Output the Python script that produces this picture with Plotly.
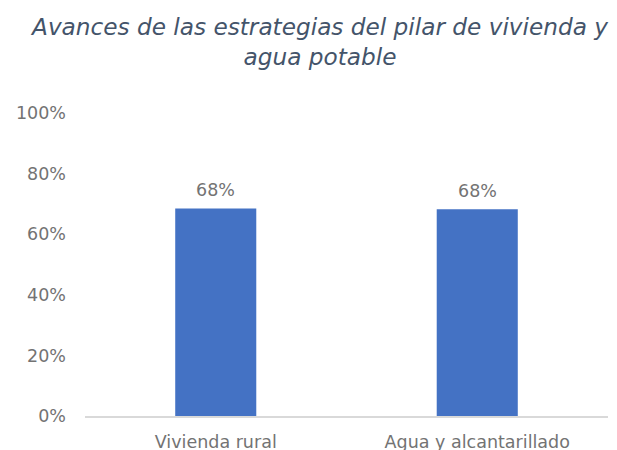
import plotly.graph_objects as go

categories = ["Vivienda rural", "Agua y alcantarillado"]
values = [0.685, 0.682]
labels = ["68%", "68%"]
y_ticks = [0, 0.2, 0.4, 0.6, 0.8, 1.0]
y_tick_labels = ["0%", "20%", "40%", "60%", "80%", "100%"]

FONT = "DejaVu Sans"
GRAY = "#737373"

fig = go.Figure()
fig.add_trace(go.Bar(
    x=categories, y=values,
    marker=dict(color="#4472C4", line=dict(width=0)),
    width=0.31, hoverinfo="skip",
))
for c, v, t in zip(categories, values, labels):
    fig.add_annotation(
        x=c, y=v, text=t, showarrow=False, yanchor="bottom", yshift=6,
        font=dict(family=FONT, size=17.5, color=GRAY),
    )
fig.update_layout(
    width=617, height=450,
    margin=dict(l=85, r=9, t=113, b=34),
    paper_bgcolor="white", plot_bgcolor="white",
    showlegend=False,
    title=dict(
        text="<i>Avances de las estrategias del pilar de vivienda y<br>agua potable</i>",
        x=320 / 617, xanchor="center", xref="container",
        yref="container", y=1 - 35 / 450, yanchor="top",
        font=dict(family=FONT, size=23.2, color="#44546A"),
    ),
    yaxis=dict(
        range=[0, 1], tickvals=y_ticks, ticktext=y_tick_labels,
        showgrid=False, zeroline=False, showline=False, automargin=False,
        tickfont=dict(family=FONT, size=17.5, color=GRAY),
        ticklabelstandoff=18,
    ),
    xaxis=dict(
        showgrid=False, showline=True, linecolor="#D9D9D9", linewidth=1.5,
        automargin=False,
        tickfont=dict(family=FONT, size=17.5, color=GRAY),
        ticks="", ticklabelstandoff=9,
    ),
)
fig.write_html(
    "out.html",
    config={"displayModeBar": False},
    post_script="document.body.style.margin='0';document.body.style.overflow='hidden';",
)
